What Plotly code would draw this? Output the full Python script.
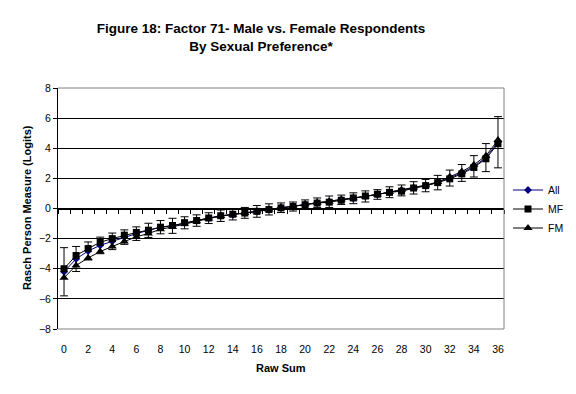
import plotly.graph_objects as go

raw_sum = list(range(37))
x_tick_labels = [str(v) for v in range(0, 37, 2)]
y_tick_values = list(range(-8, 9, 2))

all_values = [-4.2, -3.35, -2.82, -2.45, -2.18, -1.9, -1.67, -1.45, -1.24, -1.15,
              -0.95, -0.8, -0.64, -0.48, -0.4, -0.29, -0.19, -0.06, 0.05, 0.13,
              0.27, 0.38, 0.45, 0.58, 0.68, 0.8, 0.93, 1.08, 1.2, 1.37,
              1.52, 1.72, 2.02, 2.36, 2.8, 3.38, 4.4]
all_errors = [1.6, 0.83, 0.6, 0.55, 0.55, 0.48, 0.45, 0.47, 0.44, 0.5,
              0.4, 0.38, 0.36, 0.38, 0.36, 0.36, 0.39, 0.37, 0.32, 0.3,
              0.3, 0.32, 0.38, 0.31, 0.36, 0.37, 0.32, 0.36, 0.36, 0.41,
              0.41, 0.48, 0.53, 0.56, 0.71, 0.93, 1.7]
mf_values = [-4.0, -3.12, -2.66, -2.24, -2.0, -1.77, -1.59, -1.44, -1.24, -1.13,
             -0.94, -0.8, -0.63, -0.48, -0.38, -0.3, -0.19, -0.07, 0.04, 0.13,
             0.25, 0.36, 0.42, 0.55, 0.7, 0.83, 0.95, 1.07, 1.15, 1.36,
             1.52, 1.72, 1.97, 2.3, 2.72, 3.3, 4.3]
fm_values = [-4.6, -3.78, -3.28, -2.86, -2.52, -2.19, -1.88, -1.66, -1.38, -1.22,
             -1.02, -0.85, -0.67, -0.5, -0.42, -0.3, -0.2, -0.06, 0.06, 0.14,
             0.28, 0.39, 0.47, 0.6, 0.68, 0.8, 0.93, 1.1, 1.24, 1.4,
             1.55, 1.76, 2.1, 2.45, 2.9, 3.5, 4.55]

NAVY = "#000080"
FONT = "Liberation Sans, Arial, sans-serif"
OFF = 8  # default page body margin
W, H = 576 - OFF, 394 - OFF
L, R, T, B = 58 - OFF, 72, 88 - OFF, 65
pw, ph = W - L - R, H - T - B


def px_x(page_x):
    return (page_x - OFF - L) / pw


def px_y(page_y):
    return (H - B - (page_y - OFF)) / ph


fig = go.Figure()
fig.add_trace(go.Scatter(
    x=raw_sum, y=all_values, name="All", mode="lines+markers",
    line=dict(color=NAVY, width=1),
    marker=dict(symbol="diamond", size=6, color=NAVY),
    error_y=dict(type="data", array=all_errors, visible=True,
                 color="black", thickness=1, width=4),
))
fig.add_trace(go.Scatter(
    x=raw_sum, y=mf_values, name="MF", mode="lines+markers",
    line=dict(color="black", width=1),
    marker=dict(symbol="square", size=7, color="black"),
))
fig.add_trace(go.Scatter(
    x=raw_sum, y=fm_values, name="FM", mode="lines+markers",
    line=dict(color="black", width=1),
    marker=dict(symbol="triangle-up", size=8, color="black"),
))
# invisible trace to activate the mid-axis (x=0 line with category tick marks)
fig.add_trace(go.Scatter(x=[raw_sum[0]], y=[0], xaxis="x2", mode="markers",
                         marker=dict(opacity=0), showlegend=False, hoverinfo="skip"))

fig.update_layout(
    width=W, height=H,
    margin=dict(l=L, r=R, t=T, b=B, autoexpand=False),
    paper_bgcolor="white", plot_bgcolor="white",
    font=dict(family=FONT, size=11, color="black"),
    title=dict(
        text="<b>Figure 18: Factor 71- Male vs. Female Respondents<br>By Sexual Preference*</b>",
        x=(261 - OFF) / W, xanchor="center", y=1 - (25 - OFF + 8) / H, yanchor="top",
        font=dict(family=FONT, size=13.5, color="black"),
    ),
    xaxis=dict(
        range=[-0.5, 36.5], tickmode="array",
        tickvals=list(range(0, 37, 2)), ticktext=x_tick_labels,
        showgrid=False, zeroline=False, showline=False, ticks="",
        ticklabelstandoff=12, tickfont=dict(size=10.5), automargin=False,
    ),
    xaxis2=dict(
        overlaying="x", anchor="free", position=0.5, side="bottom",
        range=[-0.5, 36.5], tickmode="array",
        tickvals=[v + 0.5 for v in range(-1, 37)],
        showticklabels=False, ticks="outside", ticklen=4, tickcolor="black",
        showline=True, linecolor="black", linewidth=1,
        showgrid=False, zeroline=False, automargin=False,
    ),
    yaxis=dict(
        range=[-8, 8], tickmode="array", tickvals=y_tick_values,
        showgrid=True, gridcolor="black", gridwidth=1, zeroline=False,
        showline=True, linecolor="black", linewidth=1,
        ticks="outside", ticklen=4, tickcolor="black",
        tickfont=dict(size=10.5), automargin=False,
    ),
    legend=dict(
        x=px_x(508), y=px_y(209), xanchor="left", yanchor="middle",
        font=dict(size=10.5), tracegroupgap=0, itemwidth=30,
        bgcolor="rgba(0,0,0,0)",
    ),
    annotations=[
        dict(text="<b>Raw Sum</b>", xref="paper", yref="paper",
             x=px_x(281), y=px_y(368), xanchor="center", yanchor="middle",
             showarrow=False, font=dict(size=11)),
        dict(text="<b>Rasch Person Measure (Logits)</b>", xref="paper", yref="paper",
             x=px_x(27), y=px_y(208), xanchor="center", yanchor="middle",
             textangle=-90, showarrow=False, font=dict(size=11)),
    ],
    shapes=[
        dict(type="line", xref="paper", yref="paper", x0=0, x1=1, y0=1, y1=1,
             line=dict(color="#808080", width=1), layer="above"),
        dict(type="line", xref="paper", yref="paper", x0=1, x1=1, y0=0, y1=1,
             line=dict(color="#808080", width=1), layer="above"),
        dict(type="line", xref="paper", yref="paper", x0=0, x1=1, y0=0, y1=0,
             line=dict(color="#808080", width=1), layer="above"),
    ],
)

fig.write_html("out.html")
